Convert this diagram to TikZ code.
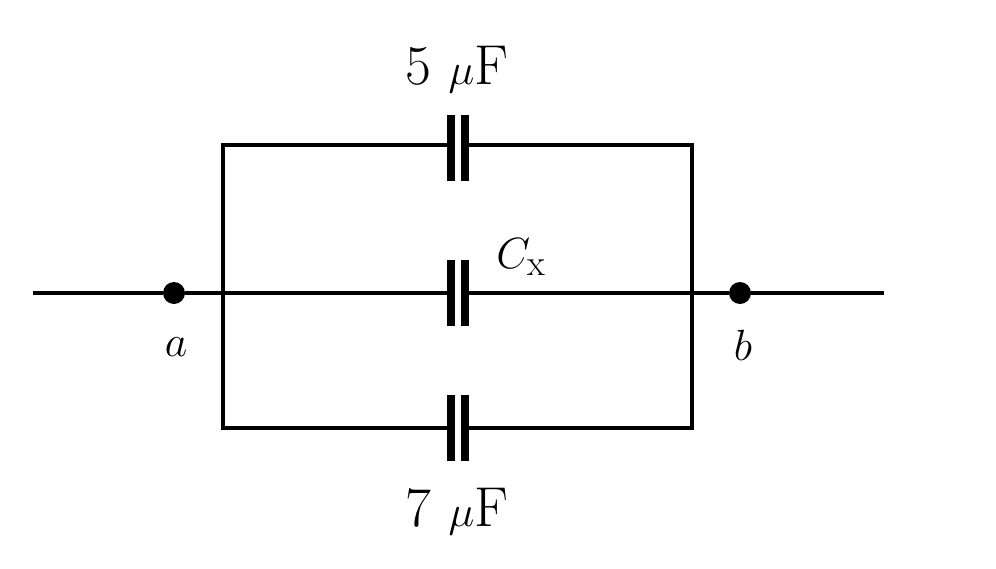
\documentclass[tikz,border=0pt]{standalone}
\begin{document}
\begin{tikzpicture}[x=0.02cm,y=-0.02cm,
  wire/.style={line width=3pt*0.85},
  plate/.style={line width=5.5pt*0.85},
  dotn/.style={circle,fill=black,inner sep=0pt,minimum size=0.44cm},
  lbl/.style={font=\fontsize{32}{36}\selectfont}]
\useasboundingbox (0,0) rectangle (996,568);
\coordinate (L) at (33,293);
\coordinate (R) at (884,293);
\node[dotn] (a) at (174,293) {};
\node[dotn] (b) at (740,293) {};
\coordinate (TL) at (223,145); \coordinate (TR) at (692,145);
\coordinate (ML) at (223,293); \coordinate (MR) at (692,293);
\coordinate (BL) at (223,428); \coordinate (BR) at (692,428);
\foreach \n/\y in {t/148,m/293,b/428}{
  \coordinate (\n1) at (451,\y); \coordinate (\n2) at (465,\y);
  \draw[plate] (451,\y-33) -- (451,\y+33);
  \draw[plate] (465,\y-33) -- (465,\y+33);
}
\draw[wire] (L) -- (a) -- (ML) -- (m1);
\draw[wire] (m2) -- (MR) -- (b) -- (R);
\draw[wire] (t1 |- TL) -- (TL) -- (BL) -- (b1 |- BL);
\draw[wire] (t2 |- TR) -- (TR) -- (BR) -- (b2 |- BR);
\node[lbl] (la) at (176,347) {$a$};
\node[lbl] (lb) at (743,345) {$b$};
\node[lbl] (l5) at (457,70) {5 $\mu$F};
\node[lbl] (l7) at (457,512) {7 $\mu$F};
\node[lbl] (lc) at (521,257) {$C_{\mathrm{x}}$};
\end{tikzpicture}
\end{document}
